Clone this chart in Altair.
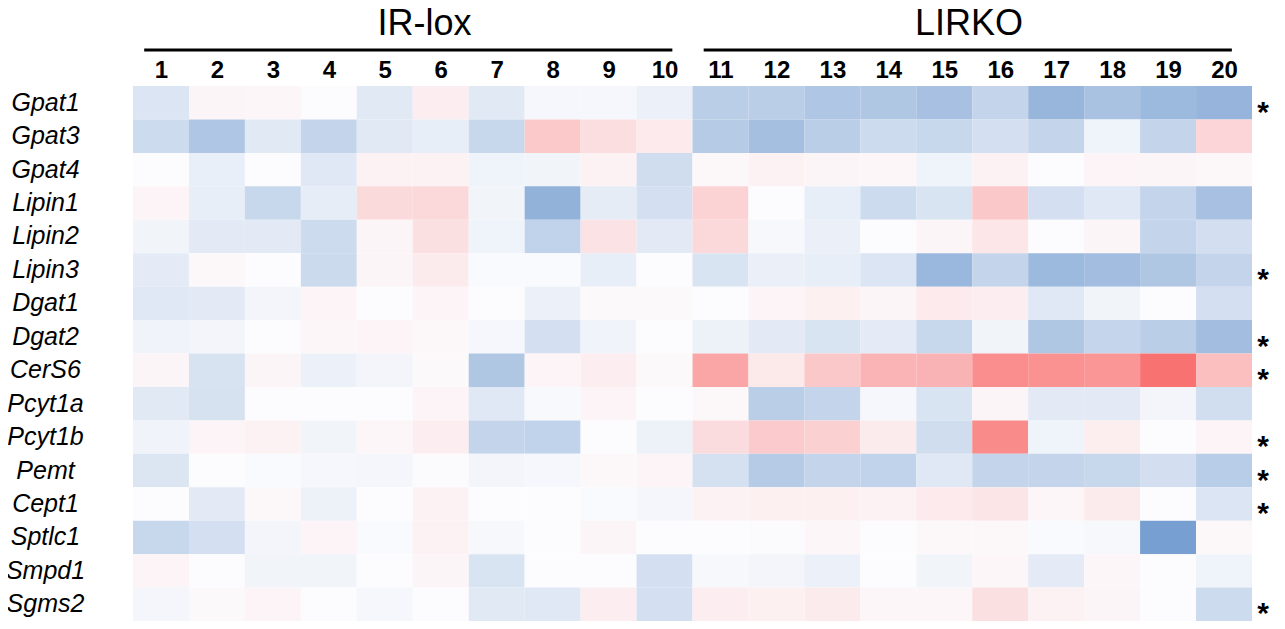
import altair as alt
import pandas as pd

columns = list(range(1, 21))
genes = ["Gpat1", "Gpat3", "Gpat4", "Lipin1", "Lipin2", "Lipin3", "Dgat1", "Dgat2",
         "CerS6", "Pcyt1a", "Pcyt1b", "Pemt", "Cept1", "Sptlc1", "Smpd1", "Sgms2"]

gpat1 = [-0.25, 0.05, 0.04, 0.0, -0.2, 0.1, -0.2, -0.05, -0.05, -0.12,
         -0.5, -0.5, -0.58, -0.57, -0.63, -0.42, -0.75, -0.62, -0.72, -0.76]
gpat3 = [-0.35, -0.58, -0.2, -0.42, -0.2, -0.15, -0.4, 0.37, 0.22, 0.13,
         -0.53, -0.66, -0.5, -0.35, -0.4, -0.3, -0.43, -0.1, -0.42, 0.28]
gpat4 = [0.0, -0.14, 0.01, -0.22, 0.07, 0.07, -0.1, -0.08, 0.07, -0.33,
         0.03, 0.07, 0.05, 0.04, -0.1, 0.07, 0.0, 0.06, 0.05, 0.03]
lipin1 = [0.06, -0.15, -0.4, -0.16, 0.25, 0.26, -0.08, -0.8, -0.17, -0.3,
          0.3, 0.01, -0.15, -0.36, -0.26, 0.38, -0.3, -0.22, -0.43, -0.63]
lipin2 = [-0.08, -0.19, -0.19, -0.35, 0.05, 0.2, -0.1, -0.44, 0.18, -0.19,
          0.26, -0.04, -0.13, 0.0, 0.05, 0.16, 0.0, 0.05, -0.43, -0.31]
lipin3 = [-0.18, 0.03, 0.0, -0.37, 0.05, 0.12, -0.02, -0.02, -0.15, 0.0,
          -0.26, -0.13, -0.15, -0.25, -0.74, -0.42, -0.72, -0.68, -0.57, -0.42]
dgat1 = [-0.22, -0.19, -0.07, 0.06, 0.0, 0.06, 0.0, -0.12, 0.02, 0.02,
         0.0, 0.06, 0.09, 0.05, 0.13, 0.1, -0.21, -0.08, 0.0, -0.3]
dgat2 = [-0.09, -0.07, 0.01, 0.04, 0.06, 0.03, -0.05, -0.3, -0.09, 0.0,
         -0.11, -0.19, -0.26, -0.18, -0.4, -0.08, -0.57, -0.41, -0.5, -0.68]
cers6 = [0.05, -0.27, 0.05, -0.12, -0.07, 0.02, -0.57, 0.06, 0.1, 0.02,
         0.62, 0.14, 0.38, 0.52, 0.53, 0.8, 0.77, 0.74, 1.0, 0.44]
pcyt1a = [-0.2, -0.28, 0.0, 0.0, 0.0, 0.06, -0.22, -0.03, 0.06, 0.0,
          0.03, -0.5, -0.43, -0.05, -0.26, 0.05, -0.19, -0.19, -0.07, -0.32]
pcyt1b = [-0.09, 0.06, 0.07, -0.08, 0.04, 0.1, -0.43, -0.44, 0.0, -0.11,
          0.23, 0.36, 0.32, 0.12, -0.33, 0.82, -0.1, 0.11, 0.0, 0.06]
pemt = [-0.24, 0.0, -0.02, -0.05, -0.06, -0.01, -0.07, -0.05, 0.03, 0.06,
        -0.29, -0.53, -0.42, -0.44, -0.22, -0.42, -0.43, -0.39, -0.31, -0.51]
cept1 = [0.0, -0.19, 0.03, -0.11, 0.0, 0.07, 0.0, 0.01, -0.02, -0.06,
         0.08, 0.09, 0.09, 0.08, 0.13, 0.17, 0.04, 0.12, 0.0, -0.25]
sptlc1 = [-0.4, -0.3, -0.07, 0.06, -0.02, 0.07, -0.04, 0.0, 0.05, 0.0,
          0.0, -0.01, 0.04, 0.01, 0.03, 0.03, -0.02, -0.04, -1.0, 0.03]
smpd1 = [0.06, 0.01, -0.08, -0.08, 0.0, 0.05, -0.26, 0.0, 0.01, -0.3,
         -0.04, -0.07, -0.12, 0.0, -0.08, 0.04, -0.18, 0.04, 0.0, -0.1]
sgms2 = [-0.06, 0.02, 0.06, 0.0, -0.05, 0.01, -0.2, -0.21, 0.1, -0.3,
         0.1, 0.09, 0.12, 0.04, 0.04, 0.2, 0.07, 0.05, 0.01, -0.35]

rows = [gpat1, gpat3, gpat4, lipin1, lipin2, lipin3, dgat1, dgat2,
        cers6, pcyt1a, pcyt1b, pemt, cept1, sptlc1, smpd1, sgms2]

significant = ["Gpat1", "Lipin3", "Dgat2", "CerS6", "Pcyt1b", "Pemt", "Cept1", "Sgms2"]

group_names = ["IR-lox", "LIRKO"]
group_first = [1, 11]
group_last = [10, 20]

records = []
for g, vals in zip(genes, rows):
    for c, v in zip(columns, vals):
        records.append({"gene": g, "col": c, "value": v})
df = pd.DataFrame(records)
sig_df = pd.DataFrame({"gene": significant, "mark": ["*"] * len(significant)})
grp_df = pd.DataFrame({"name": group_names, "first": group_first, "last": group_last})

FONT = "Liberation Sans"
W, H = 1119, 535

xdef = alt.X(
    "x0:Q",
    scale=alt.Scale(domain=[0.5, 20.5], nice=False, zero=False),
    axis=alt.Axis(orient="top", values=columns, title=None, ticks=False, tickSize=0,
                  domain=False, grid=False, labelFont=FONT, labelFontSize=24,
                  labelFontWeight="bold", labelColor="#000000", labelPadding=4,
                  labelFlush=False),
)
ydef = alt.Y(
    "gene:N",
    sort=genes,
    scale=alt.Scale(domain=genes, paddingInner=0, paddingOuter=0),
    axis=alt.Axis(title=None, ticks=False, tickSize=0, domain=False, labelFont=FONT,
                  labelFontSize=25, labelFontStyle="italic", labelColor="#000000",
                  labelAlign="center", labelPadding=88),
)

heat = alt.Chart(df).transform_calculate(
    x0="datum.col - 0.5", x1="datum.col + 0.5"
).mark_rect(strokeWidth=0).encode(
    x=xdef,
    x2="x1:Q",
    y=ydef,
    color=alt.Color(
        "value:Q",
        scale=alt.Scale(domain=[-1, 0, 1], range=["#779fd1", "#fcfcfe", "#f97272"],
                        interpolate="rgb"),
        legend=None,
    ),
)

stars = alt.Chart(sig_df).mark_text(
    font=FONT, fontSize=30, fontWeight="bold", align="center", baseline="middle",
    dy=10, color="#000000"
).encode(
    y=ydef,
    x=alt.value(W + 11),
    text="mark:N",
)

lines = alt.Chart(grp_df).transform_calculate(
    x0="datum.first - 0.3", x1="datum.last + 0.14"
).mark_rule(strokeWidth=3, color="#000000").encode(
    x=xdef,
    x2="x1:Q",
    y=alt.value(-36),
)

labels = alt.Chart(grp_df).transform_calculate(
    x0="(datum.first + datum.last) / 2 + (datum.first == 1 ? 0.21 : -0.06)"
).mark_text(
    font=FONT, fontSize=36, align="center", baseline="alphabetic", color="#000000"
).encode(
    x=xdef,
    y=alt.value(-51),
    text="name:N",
)

chart = alt.layer(heat, stars, lines, labels).properties(
    width=W, height=H,
    autosize=alt.AutoSizeParams(type="none"),
    padding={"left": 125, "top": 78, "right": 25, "bottom": 0},
    background="#ffffff",
).configure_view(stroke=None)

chart.save("out.html", embed_options={"renderer": "svg", "actions": False})
